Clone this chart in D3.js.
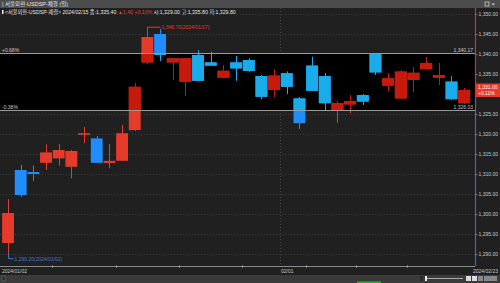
<!DOCTYPE html>
<html>
<head>
<meta charset="utf-8">
<script src="https://cdn.jsdelivr.net/npm/d3@7"></script>
<style>
body{margin:0;background:#202020;overflow:hidden;}
svg{display:block;font-family:"Liberation Sans","Noto Sans CJK KR",sans-serif;}
</style>
</head>
<body>
<div id="chart"></div>
<script>
// daily candles, 2024/01/02 - 2024/02/23
var dates = ["01/02","01/03","01/04","01/05","01/08","01/09","01/10","01/11","01/12","01/15","01/16","01/17","01/18","01/19","01/22","01/23","01/24","01/25","01/26","01/29","01/30","01/31","02/01","02/02","02/05","02/06","02/07","02/08","02/13","02/14","02/15","02/16","02/19","02/20","02/21","02/22","02/23"];
var opens  = [1292.75,1311.0,1310.5,1312.8,1313.9,1311.8,1319.8,1318.9,1312.75,1313.3,1321.0,1337.9,1345.0,1337.9,1333.1,1339.75,1337.9,1334.1,1337.9,1338.5,1334.5,1331.0,1335.2,1328.9,1337.1,1334.5,1326.0,1327.4,1329.75,1340.1,1332.1,1328.9,1333.5,1336.2,1334.1,1333.1,1327.7];
var highs  = [1303.75,1312.25,1312.1,1317.4,1317.5,1316.0,1321.8,1319.5,1317.5,1322.25,1332.7,1346.7,1346.25,1339.0,1339.0,1341.0,1340.6,1337.25,1339.5,1338.9,1334.75,1336.25,1335.6,1329.25,1339.3,1335.2,1328.25,1329.75,1330.0,1340.17,1335.2,1336.0,1336.6,1339.2,1337.7,1334.5,1331.4];
var lows   = [1290.2,1304.25,1308.3,1311.0,1312.1,1308.9,1317.7,1312.75,1311.4,1313.25,1320.75,1337.6,1338.3,1333.5,1329.6,1333.25,1337.0,1334.0,1333.3,1335.6,1328.7,1329.3,1330.0,1321.25,1330.75,1325.75,1322.8,1325.2,1327.25,1334.75,1330.75,1328.75,1330.6,1336.1,1332.25,1328.5,1327.6];
var closes = [1300.25,1304.75,1310.0,1315.4,1316.0,1315.75,1320.2,1312.8,1313.3,1320.2,1331.8,1344.25,1339.75,1338.9,1338.9,1333.3,1337.1,1335.8,1336.4,1335.75,1329.3,1334.6,1331.8,1322.7,1330.8,1327.7,1327.7,1328.25,1328.1,1335.4,1333.9,1335.6,1335.3,1337.7,1334.75,1328.7,1331.0];

var yTicks = [1290,1295,1300,1305,1310,1315,1320,1325,1330,1335,1340,1345,1350];
var weekStarts = ["01/08","01/15","01/22","01/29","02/05","02/13","02/19"];
var monthStart = "02/01";
var xLabels = ["2024/01/02","02/01","2024/02/23"];

var bandValues = [1340.17, 1326.03];
var bandPct = ["+0.68%","-0.38%"];
var bandText = ["1,340.17","1,326.03"];

var lastPrice = 1331.00;
var lastPct = "+0.11%";
var highIdx = 11, highText = "1,346.70(2024/01/17)";
var lowIdx = 0, lowText = "1,290.20(2024/01/02)";

var title = "| 서울외환-USDSP-체결 (일)";
var legendA = "<서울외환-USDSP-체결> 2024/02/15 종:1,335.40 ";
var legendB = "▲1.40 +0.10%";
var legendC = " 시:1,329.00 고:1,335.80 저:1,329.80";

var W = 500, H = 283;
var axisX = 475;
var plotTop = 8, plotBottom = 266;

var red = "#e63a2b", blue = "#1f8dfb";
var redIn = "#c81a0c", blueIn = "#19acea";

var svg = d3.select("#chart").append("svg")
    .attr("width", W)
    .attr("height", H);

svg.append("rect").attr("width", W).attr("height", H).attr("fill", "#202020");

var x = d3.scaleBand()
    .domain(dates)
    .range([1.7, 470.5])
    .padding(0);

var y = d3.scaleLinear()
    .domain([1290, 1350])
    .range([254, 14]);

var bw = x.bandwidth();

// grid
svg.append("g")
    .selectAll("line")
    .data(yTicks)
    .enter()
    .append("line")
    .attr("x1", 0).attr("x2", axisX)
    .attr("y1", d => Math.round(y(d)) + 0.5)
    .attr("y2", d => Math.round(y(d)) + 0.5)
    .attr("stroke", "#3c3c3c")
    .attr("stroke-dasharray", "1,2");

svg.append("line")
    .attr("x1", Math.round(x(monthStart)) + 0.5).attr("x2", Math.round(x(monthStart)) + 0.5)
    .attr("y1", plotTop).attr("y2", plotBottom)
    .attr("stroke", "#444")
    .attr("stroke-dasharray", "1,2");

// black band
svg.append("rect")
    .attr("x", 0)
    .attr("y", y(bandValues[0]))
    .attr("width", axisX)
    .attr("height", y(bandValues[1]) - y(bandValues[0]))
    .attr("fill", "#000");

svg.append("clipPath").attr("id", "bandClip")
    .append("rect")
    .attr("x", 0)
    .attr("y", y(bandValues[0]))
    .attr("width", axisX)
    .attr("height", y(bandValues[1]) - y(bandValues[0]));

function drawCandles(g, upCol, downCol) {
    var c = g.selectAll("g.candle")
        .data(dates)
        .enter()
        .append("g")
        .attr("class", "candle");
    var col = (d, i) => closes[i] >= opens[i] ? upCol : downCol;
    c.append("line")
        .attr("x1", d => Math.round(x(d) + bw / 2) + 0.5)
        .attr("x2", d => Math.round(x(d) + bw / 2) + 0.5)
        .attr("y1", (d, i) => y(highs[i]))
        .attr("y2", (d, i) => y(lows[i]))
        .attr("stroke", col)
        .attr("stroke-width", 1);
    c.append("rect")
        .attr("x", d => x(d) + 0.4)
        .attr("width", bw - 0.8)
        .attr("y", (d, i) => y(Math.max(opens[i], closes[i])))
        .attr("height", (d, i) => Math.max(1.6, Math.abs(y(opens[i]) - y(closes[i]))))
        .attr("fill", col);
}

drawCandles(svg.append("g"), red, blue);
drawCandles(svg.append("g").attr("clip-path", "url(#bandClip)"), redIn, blueIn);

// band lines and labels
bandValues.forEach(function (v, i) {
    var yy = Math.round(y(v)) + 0.5;
    svg.append("line")
        .attr("x1", 0).attr("x2", axisX)
        .attr("y1", yy).attr("y2", yy)
        .attr("stroke", "#9a9a9a");
    svg.append("text")
        .attr("x", 2).attr("y", yy - 1.5)
        .attr("fill", "#c8c8c8")
        .style("font-size", "5px")
        .text(bandPct[i]);
    svg.append("text")
        .attr("x", axisX - 2).attr("y", yy - 1.5)
        .attr("text-anchor", "end")
        .attr("fill", "#c8c8c8")
        .style("font-size", "5px")
        .text(bandText[i]);
});

// high / low markers
var hx = Math.round(x(dates[highIdx]) + bw / 2) + 0.5, hy = y(highs[highIdx]);
svg.append("path")
    .attr("d", "M" + hx + "," + (hy + 3) + "V" + hy + "H" + (hx + 13))
    .attr("fill", "none").attr("stroke", red);
svg.append("text")
    .attr("x", hx + 14).attr("y", hy + 1.8)
    .attr("fill", red).style("font-size", "5px")
    .text(highText);

var lx = Math.round(x(dates[lowIdx]) + bw / 2) + 0.5, ly = y(lows[lowIdx]);
svg.append("path")
    .attr("d", "M" + lx + "," + ly + "V" + (ly + 5.5) + "H" + (lx + 5))
    .attr("fill", "none").attr("stroke", "#3a78d8");
svg.append("text")
    .attr("x", lx + 6).attr("y", ly + 7.3)
    .attr("fill", "#3a78d8").style("font-size", "5px")
    .text(lowText);

// right axis
var py = y(lastPrice);
var split = py + 8;
svg.append("line")
    .attr("x1", axisX + 0.5).attr("x2", axisX + 0.5)
    .attr("y1", plotTop).attr("y2", split)
    .attr("stroke", "#c23a34").attr("stroke-width", 1.2);
svg.append("line")
    .attr("x1", axisX + 0.5).attr("x2", axisX + 0.5)
    .attr("y1", split).attr("y2", plotBottom)
    .attr("stroke", "#2f6fd6").attr("stroke-width", 1.2);

// the tick hidden behind the price box is left out
var yAxis = d3.axisRight(y)
    .tickValues(yTicks.filter(d => Math.abs(y(d) - py) > 8))
    .tickSize(2)
    .tickPadding(1)
    .tickFormat(d3.format(",.2f"));

var ya = svg.append("g")
    .attr("transform", "translate(" + (axisX + 0.5) + ",0)")
    .call(yAxis);
ya.select(".domain").remove();
ya.selectAll("line").attr("stroke", "#777");
ya.selectAll("text")
    .attr("fill", "#c8c8c8")
    .style("font-size", "5px")
    .style("font-family", "Liberation Sans");

// last price box
svg.append("rect")
    .attr("x", axisX + 1).attr("y", py - 6.5)
    .attr("width", W - axisX - 1).attr("height", 13.5)
    .attr("fill", red);
svg.append("text")
    .attr("x", axisX + 3).attr("y", py - 0.8)
    .attr("fill", "#fff").style("font-size", "5px")
    .text(d3.format(",.2f")(lastPrice));
svg.append("text")
    .attr("x", axisX + 3).attr("y", py + 5.2)
    .attr("fill", "#fff").style("font-size", "5px")
    .text(lastPct);

// bottom axis
svg.append("line")
    .attr("x1", 0).attr("x2", axisX)
    .attr("y1", plotBottom + 0.5).attr("y2", plotBottom + 0.5)
    .attr("stroke", "#8a8a8a");
svg.append("g")
    .selectAll("rect")
    .data(weekStarts)
    .enter()
    .append("rect")
    .attr("x", d => Math.round(x(d)))
    .attr("y", plotBottom - 0.5)
    .attr("width", 1).attr("height", 2)
    .attr("fill", "#bbb");

svg.append("text")
    .attr("x", 2).attr("y", 273)
    .attr("fill", "#c8c8c8").style("font-size", "5px")
    .text(xLabels[0]);
svg.append("text")
    .attr("x", x(monthStart) + 0.5).attr("y", 273)
    .attr("fill", "#c8c8c8").style("font-size", "5px")
    .text(xLabels[1]);
svg.append("text")
    .attr("x", 498).attr("y", 273)
    .attr("text-anchor", "end")
    .attr("fill", "#c8c8c8").style("font-size", "5px")
    .text(xLabels[2]);

// bottom toolbar
svg.append("rect").attr("x", 0).attr("y", 275).attr("width", W).attr("height", 8).attr("fill", "#3b3b3b");
svg.append("rect").attr("x", 2).attr("y", 276).attr("width", 3).attr("height", 5).attr("fill", "#222").attr("stroke", "#888").attr("stroke-width", 0.5);
svg.append("rect").attr("x", 420).attr("y", 276).attr("width", 3).attr("height", 5).attr("fill", "#2a2a2a");
svg.append("line").attr("x1", 426).attr("x2", 463).attr("y1", 278.5).attr("y2", 278.5).attr("stroke", "#aaa");
svg.append("rect").attr("x", 425).attr("y", 276).attr("width", 2).attr("height", 5).attr("fill", "#eee");
[466, 472, 478].forEach(function (bx, i) {
    svg.append("rect").attr("x", bx).attr("y", 276).attr("width", 5).attr("height", 5).attr("fill", i < 2 ? "#ddd" : "#888");
});
svg.append("rect").attr("x", 484).attr("y", 276).attr("width", 13).attr("height", 5).attr("fill", "#888");
svg.append("rect").attr("x", 357).attr("y", 281.5).attr("width", 24).attr("height", 2).attr("fill", "#2cb52c");

// title bar
svg.append("rect").attr("x", 0).attr("y", 0).attr("width", W).attr("height", 8).attr("fill", "#4c4c4c");
svg.append("text")
    .attr("x", 2).attr("y", 6)
    .attr("fill", "#e6e6e6").style("font-size", "5.5px")
    .text(title);
svg.append("rect").attr("x", 485).attr("y", 2).attr("width", 4).attr("height", 4).attr("fill", "none").attr("stroke", "#ddd").attr("stroke-width", 0.7);
svg.append("text").attr("x", 491.5).attr("y", 6.3).attr("fill", "#ddd").style("font-size", "6px").text("×");

// legend line
svg.append("rect").attr("x", 2).attr("y", 10).attr("width", 1.5).attr("height", 4).attr("fill", "#eee");
var lg = svg.append("text")
    .attr("x", 5).attr("y", 13.8)
    .attr("fill", "#e6e6e6").style("font-size", "5.2px");
lg.append("tspan").text(legendA);
lg.append("tspan").attr("fill", red).text(legendB);
lg.append("tspan").text(legendC);
</script>
</body>
</html>
